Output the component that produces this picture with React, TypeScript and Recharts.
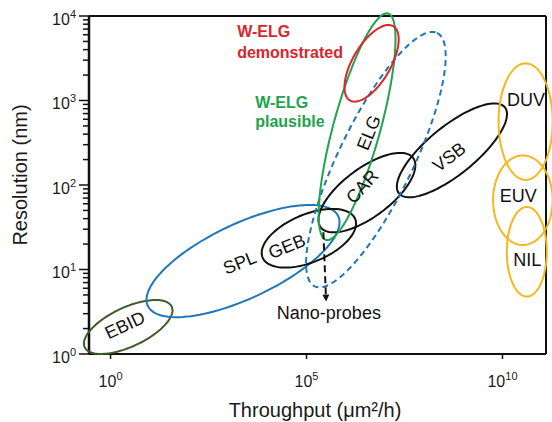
import { ScatterChart, Scatter, XAxis, YAxis, ReferenceLine, Label } from 'recharts';

const FONT = 'Arial, "Liberation Sans", Helvetica, sans-serif';

// all positions are in decades (log10 of the value)
const X_TICKS = [0, 5, 10];
const Y_MAJOR = [0, 1, 2, 3, 4];
const MINOR_FACTORS = [2, 3, 4, 5, 6, 7, 8, 9];
const X_DOMAIN = [-0.55, 11.11];
const Y_DOMAIN = [0, 4];

// each region: centre, one end of an axis, one end of the other axis
const REGIONS = ['EBID', 'SPL', 'GEB', 'CAR', 'VSB', 'ELG', 'W-ELG plausible', 'W-ELG demonstrated', 'DUV', 'EUV', 'NIL'];
const CENTER_X = [0.45, 3.38, 5.06, 6.54, 8.71, 6.77, 6.29, 6.66, 10.59, 10.52, 10.62];
const CENTER_Y = [0.32, 1.1, 1.37, 1.91, 2.41, 2.3, 2.69, 3.44, 2.75, 1.82, 1.21];
const AXIS_END_X = [1.56, 5.81, 6.24, 7.72, 10.06, 8.33, 5.5, 6.11, 10.59, 10.52, 10.62];
const AXIS_END_Y = [0.56, 1.63, 1.6, 2.32, 2.92, 3.8, 1.35, 3.0, 2.06, 1.29, 0.68];
const SIDE_END_X = [0.66, 3.78, 5.3, 6.91, 9.1, 7.63, 6.87, 7.08, 9.9, 9.76, 10.11];
const SIDE_END_Y = [0.11, 0.7, 1.11, 1.68, 2.19, 2.11, 2.62, 3.33, 2.75, 1.82, 1.21];

const REGION_COLORS = ['#3d5e2c', '#2176b8', '#111111', '#111111', '#111111', '#2176b8', '#22a24c', '#d9252b', '#f2b81e', '#f2b81e', '#f2b81e'];
const REGION_DASHED = [false, false, false, false, false, true, false, false, false, false, false];

const LABELS = ['EBID', 'SPL', 'GEB', 'CAR', 'ELG', 'VSB', 'DUV', 'EUV', 'NIL', 'Nano-probes'];
const LABEL_X = [0.37, 3.3, 4.5, 6.42, 6.59, 8.64, 10.6, 10.4, 10.63, 5.57];
const LABEL_Y = [0.34, 1.08, 1.27, 1.98, 2.62, 2.33, 3.01, 1.87, 1.11, 0.49];
const LABEL_ANGLES = [-25, -22, -22, -48, -68, -37, 0, 0, 0, 0];

const CALLOUTS = [['W-ELG', 'demonstrated'], ['W-ELG', 'plausible']];
const CALLOUT_X = [3.23, 3.69];
const CALLOUT_Y = [3.755, 2.908];
const CALLOUT_COLORS = ['#d9252b', '#22a24c'];
const CALLOUT_GAP = [21.5, 18.5];

const ARROW_X = [5.43, 5.5];
const ARROW_Y = [1.44, 0.62];

const yTicks = [
  ...Y_MAJOR,
  ...Y_MAJOR.slice(0, -1).flatMap((d) => MINOR_FACTORS.map((f) => d + Math.log10(f))),
];

const regionData = REGIONS.map((_, i) => [
  { x: CENTER_X[i], y: CENTER_Y[i] },
  { x: AXIS_END_X[i], y: AXIS_END_Y[i] },
  { x: SIDE_END_X[i], y: SIDE_END_Y[i] },
]);

const labelData = LABELS.map((text, i) => ({ x: LABEL_X[i], y: LABEL_Y[i], text, angle: LABEL_ANGLES[i] }));
const calloutData = CALLOUTS.map((lines, i) => ({
  x: CALLOUT_X[i],
  y: CALLOUT_Y[i],
  lines,
  color: CALLOUT_COLORS[i],
  gap: CALLOUT_GAP[i],
}));
const arrowData = ARROW_X.map((x, i) => ({ x, y: ARROW_Y[i] }));

// ellipse from centre + two conjugate semi-axes, all in pixels already
function ellipsePath(points: { x: number; y: number }[]) {
  const [c, a, b] = points;
  const ux = a.x - c.x;
  const uy = a.y - c.y;
  const vx = b.x - c.x;
  const vy = b.y - c.y;
  const n = 120;
  let d = '';
  for (let i = 0; i <= n; i++) {
    const t = (i / n) * Math.PI * 2;
    const px = c.x + ux * Math.cos(t) + vx * Math.sin(t);
    const py = c.y + uy * Math.cos(t) + vy * Math.sin(t);
    d += `${i ? 'L' : 'M'}${px.toFixed(2)},${py.toFixed(2)}`;
  }
  return d + 'Z';
}

function YTick(props: any) {
  const { x, y, payload } = props;
  const v = payload.value;
  const major = Math.abs(v - Math.round(v)) < 1e-6;
  return (
    <g>
      <line x1={x - (major ? 10 : 6)} x2={x} y1={y} y2={y} stroke="#111" strokeWidth={1.5} />
      {major && (
        <text x={x - 13} y={y + 8.5} textAnchor="end" fontSize={16} fontFamily={FONT} fill="#1a1a1a">
          10<tspan dy={-7} fontSize={11}>{Math.round(v)}</tspan>
        </text>
      )}
    </g>
  );
}

function XTick(props: any) {
  const { x, y, payload } = props;
  return (
    <g>
      <line x1={x} x2={x} y1={y} y2={y + 5} stroke="#111" strokeWidth={1.5} />
      <text x={x} y={y + 33} textAnchor="middle" fontSize={16} fontFamily={FONT} fill="#1a1a1a">
        10<tspan dy={-7} fontSize={11}>{payload.value}</tspan>
      </text>
    </g>
  );
}

const noDot = () => <g />;

export default function App() {
  return (
    <div style={{ position: 'absolute', left: 0, top: 0 }}>
      <ScatterChart width={552} height={422} margin={{ top: 16, right: 6, bottom: 0, left: 0 }}>
        <XAxis
          type="number"
          dataKey="x"
          domain={X_DOMAIN}
          ticks={X_TICKS}
          interval={0}
          height={68}
          tickSize={0}
          tickMargin={0}
          tickLine={false}
          tick={<XTick />}
          axisLine={{ stroke: '#111', strokeWidth: 2 }}
        >
          <Label
            content={() => (
              <text x={315} y={416.5} textAnchor="middle" fontSize={20} fontFamily={FONT} fill="#1a1a1a">
                Throughput (μm²/h)
              </text>
            )}
          />
        </XAxis>
        <YAxis
          type="number"
          dataKey="y"
          domain={Y_DOMAIN}
          ticks={yTicks}
          interval={0}
          width={89}
          tickSize={0}
          tickMargin={0}
          tickLine={false}
          tick={<YTick />}
          axisLine={{ stroke: '#111', strokeWidth: 2.5 }}
        >
          <Label
            content={() => (
              <text
                transform="translate(27,175) rotate(-90)"
                textAnchor="middle"
                fontSize={20}
                fontFamily={FONT}
                fill="#1a1a1a"
              >
                Resolution (nm)
              </text>
            )}
          />
        </YAxis>
        <ReferenceLine y={Y_DOMAIN[1]} stroke="#111" strokeWidth={2} />
        <ReferenceLine x={X_DOMAIN[1]} stroke="#111" strokeWidth={2} />

        {REGIONS.map((name, i) => (
          <Scatter
            key={name}
            name={name}
            data={regionData[i]}
            isAnimationActive={false}
            shape={noDot}
            line={(p: any) => (
              <path
                d={ellipsePath(p.points)}
                fill="none"
                stroke={REGION_COLORS[i]}
                strokeWidth={2}
                strokeDasharray={REGION_DASHED[i] ? '6 4' : undefined}
              />
            )}
          />
        ))}

        <Scatter
          name="Nano-probes arrow"
          data={arrowData}
          isAnimationActive={false}
          shape={noDot}
          line={(p: any) => {
            const [s, e] = p.points;
            const ang = Math.atan2(e.y - s.y, e.x - s.x);
            const hx = Math.cos(ang);
            const hy = Math.sin(ang);
            const bx = e.x - hx * 7;
            const by = e.y - hy * 7;
            return (
              <g>
                <line x1={s.x} y1={s.y} x2={bx} y2={by} stroke="#111" strokeWidth={2} strokeDasharray="7 4" />
                <path
                  d={`M${e.x},${e.y}L${bx - hy * 3.5},${by + hx * 3.5}L${bx + hy * 3.5},${by - hx * 3.5}Z`}
                  fill="#111"
                />
              </g>
            );
          }}
        />

        <Scatter
          name="labels"
          data={labelData}
          isAnimationActive={false}
          shape={(p: any) => (
            <text
              x={p.cx}
              y={p.cy}
              transform={`rotate(${p.payload.angle} ${p.cx} ${p.cy})`}
              textAnchor="middle"
              dominantBaseline="central"
              fontSize={18}
              fontFamily={FONT}
              fill="#111"
            >
              {p.payload.text}
            </text>
          )}
        />

        <Scatter
          name="callouts"
          data={calloutData}
          isAnimationActive={false}
          shape={(p: any) => (
            <text x={p.cx} y={p.cy} fontSize={16} fontWeight="bold" fontFamily={FONT} fill={p.payload.color}>
              {p.payload.lines.map((l: string, k: number) => (
                <tspan key={l} x={p.cx} dy={k ? p.payload.gap : 0}>
                  {l}
                </tspan>
              ))}
            </text>
          )}
        />
      </ScatterChart>
    </div>
  );
}
